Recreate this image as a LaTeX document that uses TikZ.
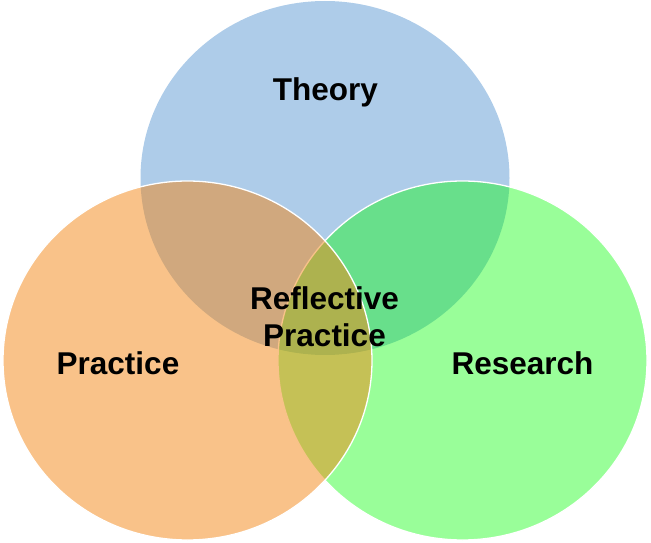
\documentclass[tikz,border=0pt]{standalone}
\usepackage{fontspec}
\setmainfont{Liberation Sans}
\definecolor{theoryblue}{RGB}{174,204,233}
\definecolor{practiceorange}{RGB}{243,134,20}
\definecolor{researchgreen}{RGB}{0,252,0}
\tikzset{
  lbl/.style={font=\bfseries\fontsize{31.5}{37}\selectfont, text=black, inner sep=0pt},
  setedge/.style={draw=white, line width=1.3pt},
}
\begin{document}
\begin{tikzpicture}[x=1pt,y=-1pt]
\useasboundingbox (0,0) rectangle (651,543);
% Theory (bottom layer)
\fill[theoryblue] (325,178) ellipse [x radius=184.5pt, y radius=177pt];
% Research
\path[fill=researchgreen, fill opacity=0.4, setedge] (462.5,360.5) ellipse [x radius=184.5pt, y radius=179.5pt];
% Practice
\path[fill=practiceorange, fill opacity=0.5, setedge] (187.5,360.5) ellipse [x radius=184.5pt, y radius=179.5pt];
% labels
\node[lbl, anchor=base] (theory) at (325.5,100) {Theory};
\node[lbl, anchor=base] (practice) at (118,374) {Practice};
\node[lbl, anchor=base] (research) at (522.5,374) {Research};
\node[lbl, anchor=base, align=center] (reflective) at (324.5,346) {Reflective\\Practice};
\end{tikzpicture}
\end{document}
